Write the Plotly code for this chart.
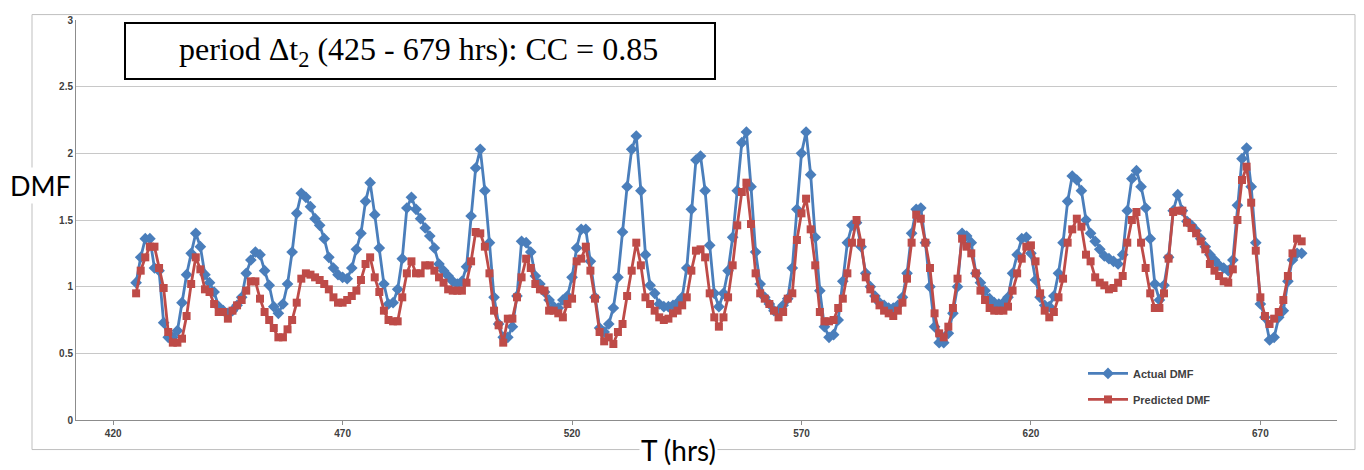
import plotly.graph_objects as go

hours = list(range(425, 680))

actual_dmf = [
    1.03, 1.22, 1.36, 1.36, 1.14, 1.12, 0.73, 0.62, 0.62, 0.67,
    0.88, 1.09, 1.25, 1.40, 1.30, 1.09, 1.03, 0.96, 0.85, 0.82,
    0.80, 0.82, 0.86, 0.92, 1.10, 1.20, 1.26, 1.24, 1.12, 1.01,
    0.85, 0.80, 0.87, 1.02, 1.26, 1.55, 1.70, 1.67, 1.60, 1.51,
    1.46, 1.36, 1.22, 1.14, 1.09, 1.07, 1.06, 1.14, 1.28, 1.40,
    1.64, 1.78, 1.54, 1.29, 1.02, 0.87, 0.88, 0.98, 1.21, 1.59,
    1.67, 1.58, 1.51, 1.44, 1.38, 1.29, 1.17, 1.12, 1.08, 1.04,
    1.02, 1.04, 1.15, 1.53, 1.89, 2.03, 1.72, 1.33, 0.92, 0.72,
    0.62, 0.62, 0.70, 0.93, 1.34, 1.33, 1.26, 1.08, 1.02, 0.96,
    0.90, 0.85, 0.84, 0.90, 0.93, 1.07, 1.29, 1.43, 1.43, 1.19,
    0.92, 0.69, 0.66, 0.72, 0.84, 1.07, 1.41, 1.75, 2.03, 2.13,
    1.72, 1.24, 1.01, 0.95, 0.87, 0.85, 0.85, 0.86, 0.88, 0.92,
    1.14, 1.58, 1.95, 1.98, 1.72, 1.31, 0.95, 0.85, 0.95, 1.12,
    1.37, 1.72, 2.08, 2.16, 1.75, 1.26, 1.02, 0.92, 0.87, 0.82,
    0.82, 0.86, 0.91, 1.14, 1.58, 2.00, 2.16, 1.84, 1.37, 0.97,
    0.70, 0.62, 0.64, 0.75, 1.04, 1.33, 1.46, 1.48, 1.30, 1.10,
    1.00, 0.93, 0.88, 0.86, 0.84, 0.84, 0.86, 0.92, 1.10, 1.40,
    1.58, 1.59, 1.33, 1.00, 0.70, 0.58, 0.58, 0.65, 0.80, 1.00,
    1.40, 1.38, 1.33, 1.10, 1.03, 0.97, 0.91, 0.88, 0.87, 0.88,
    0.92, 1.10, 1.24, 1.36, 1.37, 1.25, 1.05, 0.92, 0.86, 0.85,
    0.93, 1.10, 1.33, 1.64, 1.83, 1.80, 1.72, 1.50, 1.40, 1.34,
    1.28, 1.23, 1.21, 1.19, 1.17, 1.24, 1.57, 1.81, 1.87, 1.75,
    1.59, 1.36, 1.02, 0.90, 1.01, 1.22, 1.57, 1.69, 1.57, 1.49,
    1.46, 1.42, 1.36, 1.30, 1.24, 1.20, 1.16, 1.14, 1.12, 1.20,
    1.61, 1.96, 2.04, 1.75, 1.33, 0.87, 0.77, 0.60, 0.62, 0.77,
    0.82, 1.04, 1.20, 1.25, 1.25,
]

predicted_dmf = [
    0.95, 1.12, 1.22, 1.30, 1.30, 1.14, 0.99, 0.66, 0.58, 0.58,
    0.61, 0.78, 1.02, 1.22, 1.13, 0.98, 0.96, 0.87, 0.81, 0.81,
    0.76, 0.82, 0.86, 0.90, 0.97, 1.04, 1.04, 0.91, 0.81, 0.75,
    0.69, 0.62, 0.62, 0.68, 0.75, 0.88, 1.06, 1.10, 1.09, 1.07,
    1.05, 1.02, 0.98, 0.92, 0.88, 0.88, 0.90, 0.93, 0.97, 1.05,
    1.17, 1.22, 1.07, 0.96, 0.82, 0.75, 0.74, 0.74, 0.92, 1.10,
    1.19, 1.10, 1.10, 1.16, 1.16, 1.12, 1.07, 1.03, 0.98, 0.97,
    0.97, 0.97, 1.03, 1.19, 1.41, 1.40, 1.30, 1.10, 0.82, 0.71,
    0.58, 0.76, 0.76, 0.92, 1.07, 1.21, 1.14, 1.02, 0.98, 0.97,
    0.82, 0.82, 0.80, 0.77, 0.87, 0.91, 1.19, 1.21, 1.30, 1.12,
    0.91, 0.66, 0.59, 0.62, 0.57, 0.66, 0.72, 0.93, 1.12, 1.33,
    1.16, 0.92, 0.87, 0.82, 0.77, 0.75, 0.76, 0.80, 0.82, 0.86,
    0.92, 1.12, 1.27, 1.28, 1.22, 0.95, 0.77, 0.70, 0.77, 0.92,
    1.16, 1.46, 1.71, 1.78, 1.47, 1.10, 0.95, 0.91, 0.87, 0.82,
    0.77, 0.81, 0.91, 0.95, 1.35, 1.55, 1.66, 1.43, 1.16, 0.81,
    0.74, 0.74, 0.75, 0.84, 0.91, 1.10, 1.33, 1.50, 1.33, 1.07,
    0.98, 0.91, 0.86, 0.82, 0.80, 0.78, 0.82, 0.88, 1.06, 1.33,
    1.54, 1.51, 1.33, 1.14, 0.80, 0.65, 0.62, 0.70, 0.84, 1.06,
    1.36, 1.30, 1.25, 1.10, 0.97, 0.90, 0.84, 0.82, 0.82, 0.82,
    0.85, 0.97, 1.10, 1.21, 1.30, 1.31, 1.19, 0.95, 0.82, 0.77,
    0.81, 0.92, 1.06, 1.33, 1.43, 1.51, 1.45, 1.24, 1.19, 1.07,
    1.03, 1.01, 0.98, 0.99, 1.03, 1.08, 1.33, 1.50, 1.56, 1.33,
    1.14, 0.95, 0.84, 0.84, 0.95, 1.21, 1.56, 1.57, 1.57, 1.48,
    1.44, 1.40, 1.34, 1.28, 1.17, 1.12, 1.08, 1.04, 1.03, 1.13,
    1.50, 1.80, 1.90, 1.63, 1.27, 0.92, 0.78, 0.72, 0.76, 0.81,
    0.90, 1.08, 1.25, 1.36, 1.34,
]

x_ticks = [420, 470, 520, 570, 620, 670]
y_ticks = [0, 0.5, 1, 1.5, 2, 2.5, 3]
y_tick_text = ["0", "0.5", "1", "1.5", "2", "2.5", "3"]

# The page body adds an 8px margin; the figure is offset by it.
OFF = 8
W, H = 1364 - 2 * OFF, 470 - OFF
# plot area in screen pixels
L, R, T, B = 76, 1337, 14, 420


def px(sx):
    return (sx - L) / (R - L)


def py(sy):
    return (B - sy) / (B - T)


fig = go.Figure()
fig.add_trace(go.Scatter(
    x=hours, y=actual_dmf, name="Actual DMF", mode="lines+markers", legendgroup="a",
    line=dict(color="#4A7EBB", width=2.8),
    marker=dict(symbol="diamond", size=9, color="#4A7EBB"),
))
fig.add_trace(go.Scatter(
    x=hours, y=predicted_dmf, name="Predicted DMF", mode="lines+markers", legendgroup="b",
    line=dict(color="#BE4B48", width=2.8),
    marker=dict(symbol="square", size=8, color="#BE4B48"),
))

tick_font = dict(family="Liberation Sans", size=10, color="#404040", weight="bold")

fig.update_layout(
    width=W, height=H,
    margin=dict(l=L - OFF, r=W - (R - OFF), t=T - OFF, b=H - (B - OFF)),
    paper_bgcolor="white", plot_bgcolor="white",
    showlegend=True,
    legend=dict(
        x=px(1083), y=py(358), xanchor="left", yanchor="top",
        bgcolor="rgba(255,255,255,0)",
        font=dict(family="Liberation Sans", size=11, color="#404040", weight="bold"),
        tracegroupgap=7, itemwidth=40,
    ),
    xaxis=dict(
        range=[411.9, 686.7], tickvals=x_ticks, ticktext=[str(v) for v in x_ticks],
        showgrid=False, zeroline=False, showline=True, linecolor="#8C8C8C", linewidth=1,
        ticks="outside", ticklen=4, tickcolor="#8C8C8C", tickfont=tick_font,
    ),
    yaxis=dict(
        range=[0, 3], tickvals=y_ticks, ticktext=y_tick_text,
        showgrid=True, gridcolor="#C8C8C8", gridwidth=1, zeroline=False,
        showline=True, linecolor="#8C8C8C", linewidth=1,
        ticks="", tickfont=tick_font,
    ),
    shapes=[
        dict(type="rect", xref="paper", yref="paper",
             x0=px(32), x1=px(1355), y0=py(450), y1=py(8.5),
             line=dict(color="#BFBFBF", width=1), fillcolor="rgba(0,0,0,0)", layer="below"),
        dict(type="rect", xref="paper", yref="paper",
             x0=px(125), x1=px(715), y0=py(74), y1=py(17),
             line=dict(color="black", width=2), fillcolor="white", layer="above"),
    ],
    annotations=[
        dict(text="period \u0394t<sub>2</sub> (425 - 679 hrs): CC = 0.85",
             xref="paper", yref="paper", x=px(419), y=py(46),
             xanchor="center", yanchor="middle", showarrow=False,
             font=dict(family="Liberation Serif", size=32, color="black")),
        dict(text="DMF", xref="paper", yref="paper", x=px(40), y=py(182),
             xanchor="center", yanchor="middle", showarrow=False, bgcolor="white",
             font=dict(family="Lato", size=27, color="black")),
        dict(text="T (hrs)", xref="paper", yref="paper", x=px(678), y=py(450),
             xanchor="center", yanchor="middle", showarrow=False, bgcolor="white",
             font=dict(family="Lato", size=28, color="black")),
    ],
)

fig.write_html("out.html")
